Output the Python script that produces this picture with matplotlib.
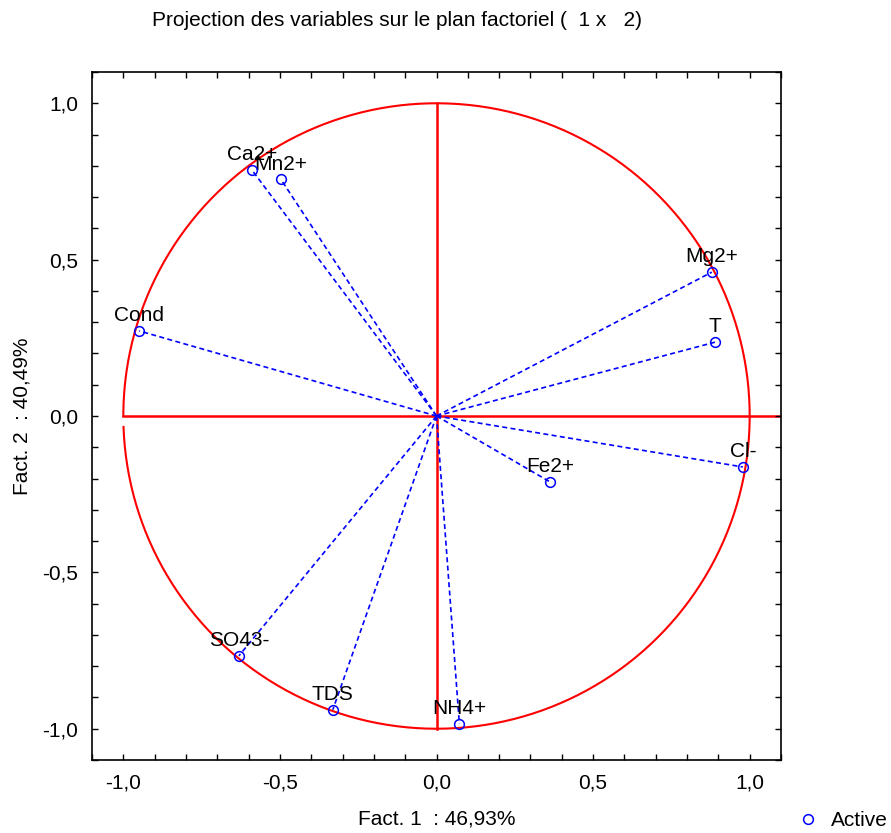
import numpy as np
import matplotlib
matplotlib.use("Agg")
from matplotlib import pyplot as plt
from matplotlib.ticker import MultipleLocator, FuncFormatter

# coordonnées des variables sur le plan factoriel
variables = ["Ca2+", "Mn2+", "Mg2+", "T", "Cond", "Cl-", "Fe2+", "SO43-", "TDS", "NH4+"]
fact1 = [-0.589, -0.497, 0.879, 0.889, -0.949, 0.978, 0.363, -0.631, -0.331, 0.073]
fact2 = [0.786, 0.757, 0.460, 0.236, 0.272, -0.163, -0.211, -0.767, -0.939, -0.984]

plt.rcParams['font.family'] = ['Liberation Sans', 'DejaVu Sans']
fs = 15
fig = plt.figure(figsize=(8.91, 8.33), dpi=100)
ax = fig.add_axes([92/891, 1-760/833, (781-92)/891, (760-72)/833])

# cercle de corrélation
theta = np.linspace(np.pi + 0.035, 3*np.pi, 400)
ax.plot(np.cos(theta), np.sin(theta), c='red', lw=1.5, zorder=1)
ax.plot([-1, 1.1], [0, 0], c='red', lw=1.8, zorder=1)
ax.plot([0, 0], [-1, 1], c='red', lw=1.8, zorder=1)

for name, x, y in zip(variables, fact1, fact2):
    ax.plot([0, x], [0, y], c='blue', lw=1.2, ls=(0, (3, 2)), zorder=2)
    ax.annotate(name, (x, y), xytext=(0, 7), textcoords='offset points',
                ha='center', va='baseline', fontsize=fs)
ax.plot(fact1, fact2, 'o', mfc='none', mec='blue', ms=7, mew=1.1, zorder=3,
        label='Active')

ax.set_xlim(-1.1, 1.1)
ax.set_ylim(-1.1, 1.1)
fmt = FuncFormatter(lambda v, p: f"{v:.1f}".replace('.', ','))
for axis in (ax.xaxis, ax.yaxis):
    axis.set_major_locator(MultipleLocator(0.5))
    axis.set_minor_locator(MultipleLocator(0.1))
    axis.set_major_formatter(fmt)
ax.tick_params(which='both', direction='in', top=True, right=True,
               length=4, width=1, labelsize=fs, pad=10)
for s in ax.spines.values():
    s.set_linewidth(1.2)

fig.text(152/891, 1-20/833, "Projection des variables sur le plan factoriel (  1 x   2)",
         ha='left', va='center', fontsize=fs)
ax.set_xlabel("Fact. 1  : 46,93%", fontsize=fs, labelpad=12)
ax.set_ylabel("Fact. 2  : 40,49%", fontsize=fs, labelpad=8)
fig.legend(loc='center left', bbox_to_anchor=(798/891, 1-821/833), frameon=False,
           fontsize=fs, handlelength=1.0, handletextpad=0.6, borderpad=0,
           borderaxespad=0)

plt.savefig("out.png", dpi=100)
